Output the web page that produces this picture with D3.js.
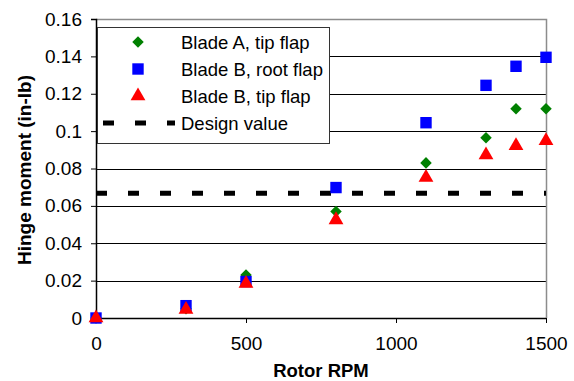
<!DOCTYPE html>
<html><head><meta charset="utf-8">
<script src="https://cdn.jsdelivr.net/npm/d3@7"></script>
<style>
body{margin:0;background:#fff;}
text{font-family:"Liberation Sans",Arial,sans-serif;}
</style></head>
<body><svg id="chart" width="574" height="381"></svg>
<script>
// Hinge moment measurements by rotor speed
const rpm = [0, 300, 500, 800, 1100, 1300, 1400, 1500];
const bladeATip = [0, 0.005, 0.023, 0.057, 0.083, 0.0965, 0.112, 0.112];
const bladeBRoot = [0, 0.0066, 0.0195, 0.0698, 0.1045, 0.1245, 0.1347, 0.1395];
const bladeBTip = [0, 0.0045, 0.0185, 0.0525, 0.0752, 0.0872, 0.0922, 0.0948];
const designValue = 0.0667;
const xTicks = [0, 500, 1000, 1500];
const yTicks = [0, 0.02, 0.04, 0.06, 0.08, 0.1, 0.12, 0.14, 0.16];
const seriesNames = ["Blade A, tip flap", "Blade B, root flap", "Blade B, tip flap", "Design value"];

const svg = d3.select("#chart");
const plotL = 96, plotR = 546, plotT = 19, plotB = 318;
const x = d3.scaleLinear().domain([0, 1500]).range([plotL, plotR]);
const y = d3.scaleLinear().domain([0, 0.16]).range([plotB, plotT]);
const fontStack = "'Liberation Sans', Arial, sans-serif";

// gridlines
svg.append("g").selectAll("line").data(yTicks.filter(t => t > 0 && t < 0.16)).join("line")
  .attr("x1", plotL).attr("x2", plotR)
  .attr("y1", d => Math.round(y(d)) + 0.5).attr("y2", d => Math.round(y(d)) + 0.5)
  .attr("stroke", "#000").attr("stroke-width", 1);

// plot frame (top and right)
svg.append("path")
  .attr("d", `M${plotL},${plotT + 0.5}H${plotR + 0.5}V${plotB}`)
  .attr("fill", "none").attr("stroke", "#8c8c8c").attr("stroke-width", 1.5);

// axes
const yAxis = d3.axisLeft(y).tickValues(yTicks).tickSize(5).tickPadding(9)
  .tickFormat(d => d === 0 ? "0" : String(+d.toFixed(2)));
const gy = svg.append("g").attr("transform", `translate(${plotL},0)`).call(yAxis);
const xAxis = d3.axisBottom(x).tickValues(xTicks).tickSize(5).tickPadding(14).tickFormat(d3.format("d"));
const gx = svg.append("g").attr("transform", `translate(0,${plotB})`).call(xAxis);
[gy, gx].forEach(g => {
  g.select(".domain").attr("stroke", "#000").attr("stroke-width", 1.5);
  g.selectAll(".tick line").attr("stroke", "#000");
  g.selectAll(".tick text").attr("font-size", 19).attr("fill", "#000")
    .style("font-family", fontStack);
});
gx.select(".domain").attr("d", `M${plotL},0.5H${plotR}`);

// axis titles
svg.append("text").attr("x", plotL + (plotR - plotL) / 2 - 0).attr("y", 377)
  .attr("text-anchor", "middle").attr("font-size", 18.5).attr("font-weight", "bold")
  .text("Rotor RPM");
svg.append("text").attr("transform", `translate(31,170) rotate(-90)`)
  .attr("text-anchor", "middle").attr("font-size", 19).attr("font-weight", "bold")
  .text("Hinge moment (in-lb)");

// design value dashed line
svg.append("line")
  .attr("x1", plotL).attr("x2", plotR)
  .attr("y1", y(designValue)).attr("y2", y(designValue))
  .attr("stroke", "#000").attr("stroke-width", 5).attr("stroke-dasharray", "11,21");

const symDiamond = d3.symbol().type(d3.symbolDiamond2).size(85);
const symSquare = d3.symbol().type(d3.symbolSquare).size(130);
const symTriangle = d3.symbol().type(d3.symbolTriangle).size(95);

function drawSeries(values, sym, color) {
  svg.append("g").selectAll("path").data(values).join("path")
    .attr("transform", (d, i) => `translate(${x(rpm[i])},${y(d)})`)
    .attr("d", sym).attr("fill", color);
}
drawSeries(bladeATip, symDiamond, "#008000");
drawSeries(bladeBRoot, symSquare, "#0000ff");
drawSeries(bladeBTip, symTriangle, "#ff0000");

// legend
const lg = svg.append("g");
lg.append("rect").attr("x", 97.5).attr("y", 27.5).attr("width", 232).attr("height", 116)
  .attr("fill", "#fff").attr("stroke", "#333").attr("stroke-width", 1);
const rowY = [42, 69, 96, 123];
const legendSyms = [[symDiamond, "#008000"], [symSquare, "#0000ff"], [symTriangle, "#ff0000"]];
legendSyms.forEach(([s, c], i) => {
  lg.append("path").attr("transform", `translate(138,${rowY[i]})`).attr("d", s).attr("fill", c);
});
lg.append("line").attr("x1", 103).attr("x2", 175).attr("y1", rowY[3]).attr("y2", rowY[3])
  .attr("stroke", "#000").attr("stroke-width", 5).attr("stroke-dasharray", "11,21");
lg.selectAll("text.lbl").data(seriesNames).join("text").attr("class", "lbl")
  .attr("x", 181).attr("y", (d, i) => rowY[i] + 6.5).attr("font-size", 18.5).attr("fill", "#000")
  .text(d => d);
</script></body></html>
